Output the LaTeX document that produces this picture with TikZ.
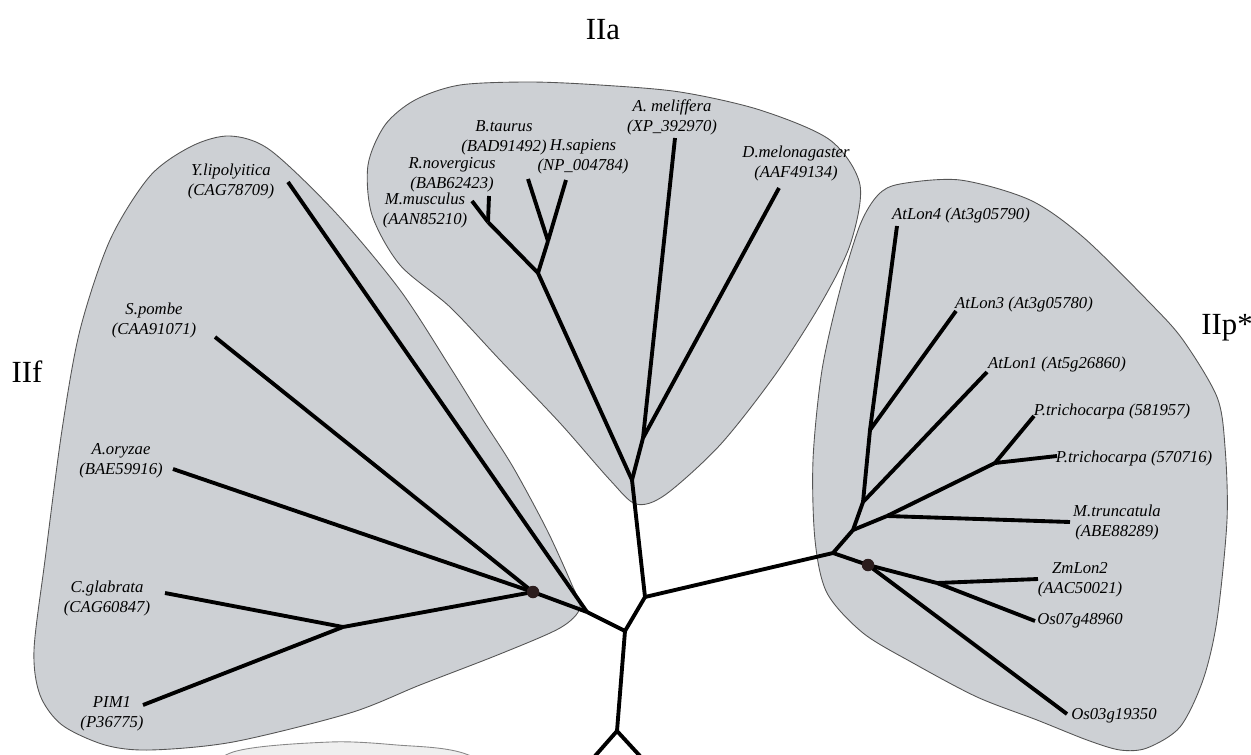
\documentclass[tikz,border=0pt]{standalone}
\usepackage{fontspec}
\setmainfont{Liberation Serif}
\usepackage{xcolor}
\usepackage{tikz}
\definecolor{clade}{HTML}{CDD0D4}
\definecolor{cladeline}{HTML}{555555}
\definecolor{outgroup}{HTML}{EFEFEF}
\definecolor{nodedot}{HTML}{2B1D1D}
\makeatletter
\renewcommand\small{%
  \@setfontsize\small{9.5pt}{11.4pt}%
}
\renewcommand\large{%
  \@setfontsize\large{17.5pt}{21pt}%
}
\makeatother

\begin{document}
\begin{tikzpicture}[x=0.02cm, y=-0.02cm, line join=round,
  every node/.style={font=\small},
  leaf/.style={font=\small\itshape, align=center, inner sep=0pt},
  group/.style={font=\large, inner sep=0pt},
  branch/.style={line width=2.2pt},
  blob/.style={fill=clade, draw=cladeline, line width=0.5pt},
  bootdot/.style={circle, fill=nodedot, inner sep=0pt, minimum size=0.25cm}]
  \useasboundingbox (0,0) rectangle (1251,754);
  \clip (0,0) rectangle (1251,754);

  % clade areas
  \draw[blob] plot[smooth cycle] coordinates {(230,136) (270,150) (335,212) (400,290)
    (450,367) (483,420) (513,467) (547,530) (572,585) (580,608) (560,628) (500,654)
    (420,685) (350,713) (233,742) (150,750) (105,745) (62,725) (40,695) (34,650)
    (45,560) (62,430) (80,330) (110,240) (150,176) (192,146)};
  \draw[blob] plot[smooth cycle] coordinates {(460,85) (530,82) (600,85) (680,92)
    (760,110) (830,140) (860,185) (850,245) (820,305) (775,375) (720,445) (665,495)
    (636,504) (610,480) (560,423) (500,360) (450,307) (400,265) (372,215) (368,165)
    (385,125) (415,100)};
  \draw[blob] plot[smooth cycle] coordinates {(900,184) (960,180) (1030,200) (1083,237)
    (1150,303) (1183,340) (1217,397) (1225,447) (1227,520) (1217,620) (1203,680)
    (1180,727) (1147,748) (1120,750) (1087,740) (1037,720) (977,697) (913,663)
    (863,633) (827,593) (815,540) (813,460) (822,370) (840,290) (860,225) (878,195)};
  \draw[fill=outgroup, draw=cladeline!70, line width=0.5pt] plot[smooth] coordinates
    {(180,790) (233,752) (330,742) (397,745) (463,753) (540,790)};

  % inner nodes
  \coordinate (b1) at (617,731);
  \coordinate (bl) at (595,756);
  \coordinate (br) at (640,756);
  \coordinate (r0) at (625,631);
  \coordinate (r1) at (645,597);
  \coordinate (fRoot) at (587,612);
  \coordinate (fDot) at (533,592);
  \coordinate (fJ) at (343,627);
  \coordinate (aRoot) at (632,480);
  \coordinate (aJ1) at (538,273);
  \coordinate (aJ2) at (548,241);
  \coordinate (aJ3) at (488,222);
  \coordinate (aJ4) at (643,438);
  \coordinate (pRoot) at (833,553);
  \coordinate (pJ1) at (853,530);
  \coordinate (pJ2) at (863,502);
  \coordinate (pJ3) at (870,430);
  \coordinate (pJ4) at (887,516);
  \coordinate (pJ5) at (995,463);
  \coordinate (pDot) at (868,565);
  \coordinate (pJ6) at (937,583);

  % leaves
  \coordinate (yli) at (288,182);
  \coordinate (spo) at (215,337);
  \coordinate (aor) at (173,469);
  \coordinate (cgl) at (165,593);
  \coordinate (pim) at (143,705);
  \coordinate (mmu) at (472,201);
  \coordinate (rno) at (489,196);
  \coordinate (bta) at (528,179);
  \coordinate (hsa) at (566,180);
  \coordinate (ame) at (675,138);
  \coordinate (dme) at (779,188);
  \coordinate (lon4) at (897,226);
  \coordinate (lon3) at (956,311);
  \coordinate (lon1) at (987,372);
  \coordinate (ptr1) at (1034,416);
  \coordinate (ptr2) at (1057,456);
  \coordinate (mtr) at (1070,522);
  \coordinate (zml) at (1038,579);
  \coordinate (os07) at (1035,621);
  \coordinate (os03) at (1067,714);

  % branches
  \draw[branch] (bl) -- (b1) -- (br);
  \draw[branch] (b1) -- (r0) -- (r1);
  \draw[branch] (r0) -- (fRoot);
  \draw[branch] (r1) -- (aRoot);
  \draw[branch] (r1) -- (pRoot);
  \draw[branch] (fRoot) -- (yli);
  \draw[branch] (fRoot) -- (fDot);
  \draw[branch] (fDot) -- (spo);
  \draw[branch] (fDot) -- (aor);
  \draw[branch] (fDot) -- (fJ);
  \draw[branch] (fJ) -- (cgl);
  \draw[branch] (fJ) -- (pim);
  \draw[branch] (aRoot) -- (aJ1);
  \draw[branch] (aRoot) -- (aJ4);
  \draw[branch] (aJ4) -- (ame);
  \draw[branch] (aJ4) -- (dme);
  \draw[branch] (aJ1) -- (aJ3);
  \draw[branch] (aJ3) -- (mmu);
  \draw[branch] (aJ3) -- (rno);
  \draw[branch] (aJ1) -- (aJ2);
  \draw[branch] (aJ2) -- (bta);
  \draw[branch] (aJ2) -- (hsa);
  \draw[branch] (pRoot) -- (pJ1) -- (pJ2) -- (pJ3);
  \draw[branch] (pJ3) -- (lon4);
  \draw[branch] (pJ3) -- (lon3);
  \draw[branch] (pJ2) -- (lon1);
  \draw[branch] (pJ1) -- (pJ4);
  \draw[branch] (pJ4) -- (mtr);
  \draw[branch] (pJ4) -- (pJ5);
  \draw[branch] (pJ5) -- (ptr1);
  \draw[branch] (pJ5) -- (ptr2);
  \draw[branch] (pRoot) -- (pDot);
  \draw[branch] (pDot) -- (os03);
  \draw[branch] (pDot) -- (pJ6);
  \draw[branch] (pJ6) -- (os07);
  \draw[branch] (pJ6) -- (zml);

  \node[bootdot] (fDotMark) at (fDot) {};
  \node[bootdot] (pDotMark) at (pDot) {};

  % group names
  \node[group] (IIa) at (603,30) {IIa};
  \node[group] (IIf) at (27,372) {IIf};
  \node[group] (IIp) at (1227,328) {IIp*};

  % leaf labels
  \node[leaf] (yliL) at (231,181) {Y.lipolyitica\\(CAG78709)};
  \node[leaf] (spoL) at (154,320) {S.pombe\\(CAA91071)};
  \node[leaf] (aorL) at (121,461) {A.oryzae\\(BAE59916)};
  \node[leaf] (cglL) at (107,598) {C.glabrata\\(CAG60847)};
  \node[leaf] (pimL) at (112,714) {PIM1\\(P36775)};
  \node[leaf] (mmuL) at (425,210) {M.musculus\\(AAN85210)};
  \node[leaf] (rnoL) at (452,175) {R.novergicus\\(BAB62423)};
  \node[leaf] (btaL) at (504,138) {B.taurus\\(BAD91492)};
  \node[leaf] (hsaL) at (583,157) {H.sapiens\\(NP\_004784)};
  \node[leaf] (ameL) at (672,117) {A. meliffera\\(XP\_392970)};
  \node[leaf] (dmeL) at (796,163) {D.melonagaster\\(AAF49134)};
  \node[leaf] (lon4L) at (961,215) {AtLon4 (At3g05790)};
  \node[leaf] (lon3L) at (1024,304) {AtLon3 (At3g05780)};
  \node[leaf] (lon1L) at (1057,364) {AtLon1 (At5g26860)};
  \node[leaf] (ptr1L) at (1112,411) {P.trichocarpa (581957)};
  \node[leaf] (ptr2L) at (1134,458) {P.trichocarpa (570716)};
  \node[leaf] (mtrL) at (1117,522) {M.truncatula\\(ABE88289)};
  \node[leaf] (zmlL) at (1080,580) {ZmLon2\\(AAC50021)};
  \node[leaf] (os07L) at (1080,621) {Os07g48960};
  \node[leaf] (os03L) at (1114,716) {Os03g19350};
\end{tikzpicture}
\end{document}
